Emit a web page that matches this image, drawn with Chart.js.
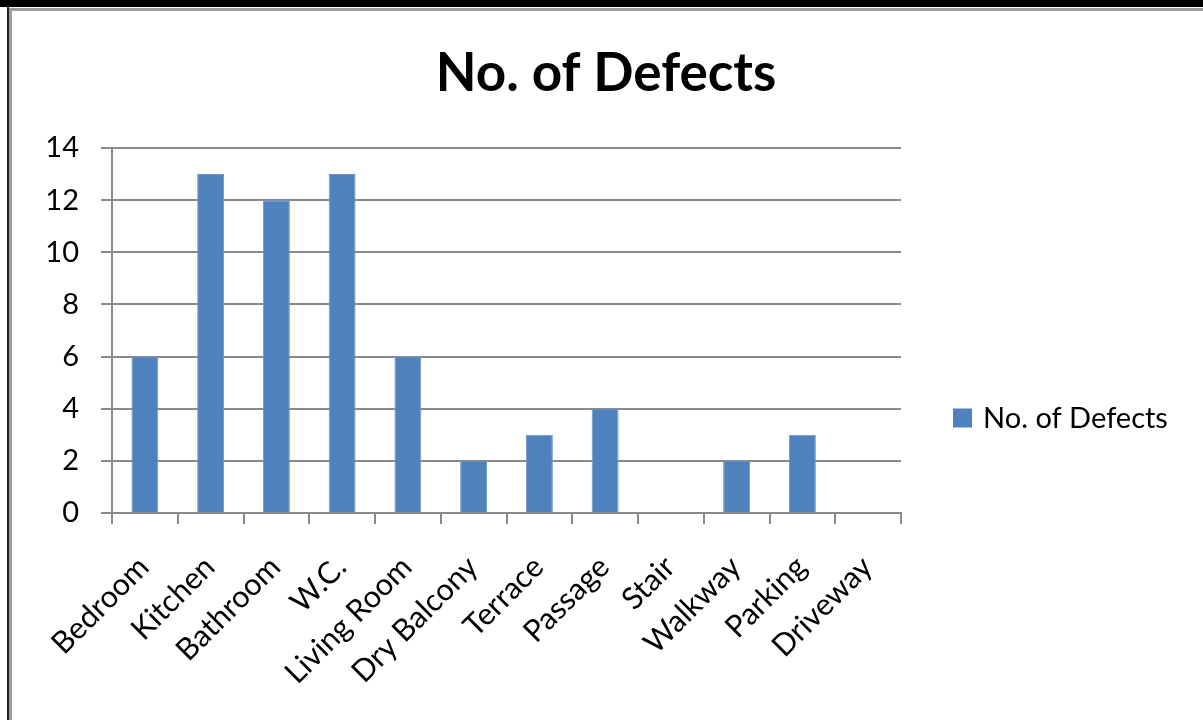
<!DOCTYPE html>
<html>
<head>
<meta charset="utf-8">
<script src="https://cdn.jsdelivr.net/npm/chart.js@4.4.1/dist/chart.umd.min.js"></script>
<style>
  html, body { margin: 0; padding: 0; background: #fff; overflow: hidden; }
  #wrap { position: relative; width: 1203px; height: 720px; }
  #chart { position: absolute; left: 0; top: 0; }
  .frame { position: absolute; }
</style>
</head>
<body>
<div id="wrap">
  <canvas id="chart" width="1203" height="720"></canvas>
  <div class="frame" style="left:0;top:0;width:1203px;height:7px;background:#000"></div>
  <div class="frame" style="left:9px;top:8px;width:1194px;height:3px;background:#9d9d9d"></div>
  <div class="frame" style="left:7px;top:7px;width:2px;height:713px;background:#222"></div>
  <div class="frame" style="left:9px;top:8px;width:3px;height:712px;background:#9d9d9d"></div>
</div>
<script>
// ── Dados ──────────────────────────────────────────────
const categories = ['Bedroom', 'Kitchen', 'Bathroom', 'W.C.', 'Living Room', 'Dry Balcony',
                    'Terrace', 'Passage', 'Stair', 'Walkway', 'Parking', 'Driveway'];
const defects    = [6, 13, 12, 13, 6, 2, 3, 4, 0, 2, 3, 0];
const seriesName = 'No. of Defects';
const yMin = 0, yMax = 14, yStep = 2;

const BAR_BLUE = '#4F81BD';
const GRID     = '#8a8a8a';
const FONT     = 'Lato';

// legenda lateral, centrada como no Excel (não no chartArea)
const sideLegend = {
  id: 'sideLegend',
  afterDraw(chart) {
    const { ctx, chartArea } = chart;
    const ds = chart.data.datasets[0];
    const x = chartArea.right + 52;
    const y = chartArea.bottom - 95;
    ctx.save();
    ctx.fillStyle = ds.backgroundColor;
    ctx.fillRect(x, y - 9.5, 19, 19);
    ctx.font = `29px ${FONT}`;
    ctx.fillStyle = '#000';
    ctx.textBaseline = 'middle';
    ctx.fillText(ds.label, x + 30, y + 1);
    ctx.restore();
  }
};

function draw() {
  new Chart(document.getElementById('chart'), {
    type: 'bar',
    data: {
      labels: categories,
      datasets: [{
        label: seriesName,
        data: defects,
        backgroundColor: BAR_BLUE,
        borderColor: '#7097c9',
        borderWidth: 1,
        barPercentage: 0.41,
        categoryPercentage: 1.0
      }]
    },
    options: {
      responsive: false,
      animation: false,
      layout: { padding: { left: 9, right: 0, top: 0, bottom: 0 } },
      plugins: {
        legend: { display: false },
        tooltip: { enabled: false },
        title: {
          display: true,
          text: seriesName,
          color: '#000',
          font: { family: FONT, size: 53, weight: 'bold' },
          padding: { top: 42, bottom: 42.4 }
        }
      },
      scales: {
        x: {
          offset: true,
          grid: { display: true, drawOnChartArea: false, drawTicks: true, tickLength: 11,
                  color: GRID, lineWidth: 2, offset: true },
          border: { display: true, color: GRID, width: 2 },
          ticks: { color: '#000', font: { family: FONT, size: 30.5 }, autoSkip: false,
                   minRotation: 45, maxRotation: 45, padding: 25, labelOffset: -1 },
          afterFit(s) { s.height = 207; }
        },
        y: {
          min: yMin, max: yMax,
          ticks: { stepSize: yStep, padding: 22, color: '#000', font: { family: FONT, size: 29 } },
          grid: { color: GRID, lineWidth: 2, tickLength: 11 },
          border: { color: GRID, width: 2 },
          afterFit(s) { s.width = 103; }
        },
        // eixo invisível só pra reservar o espaço da legenda à direita
        yPad: {
          type: 'linear', axis: 'y', position: 'right', display: true,
          grid: { display: false }, border: { display: false }, ticks: { display: false },
          afterFit(s) { s.width = 302; }
        }
      }
    },
    plugins: [sideLegend]
  });
}

Promise.all([
  document.fonts.load(`bold 53px ${FONT}`),
  document.fonts.load(`29px ${FONT}`)
]).then(draw, draw);
</script>
</body>
</html>
